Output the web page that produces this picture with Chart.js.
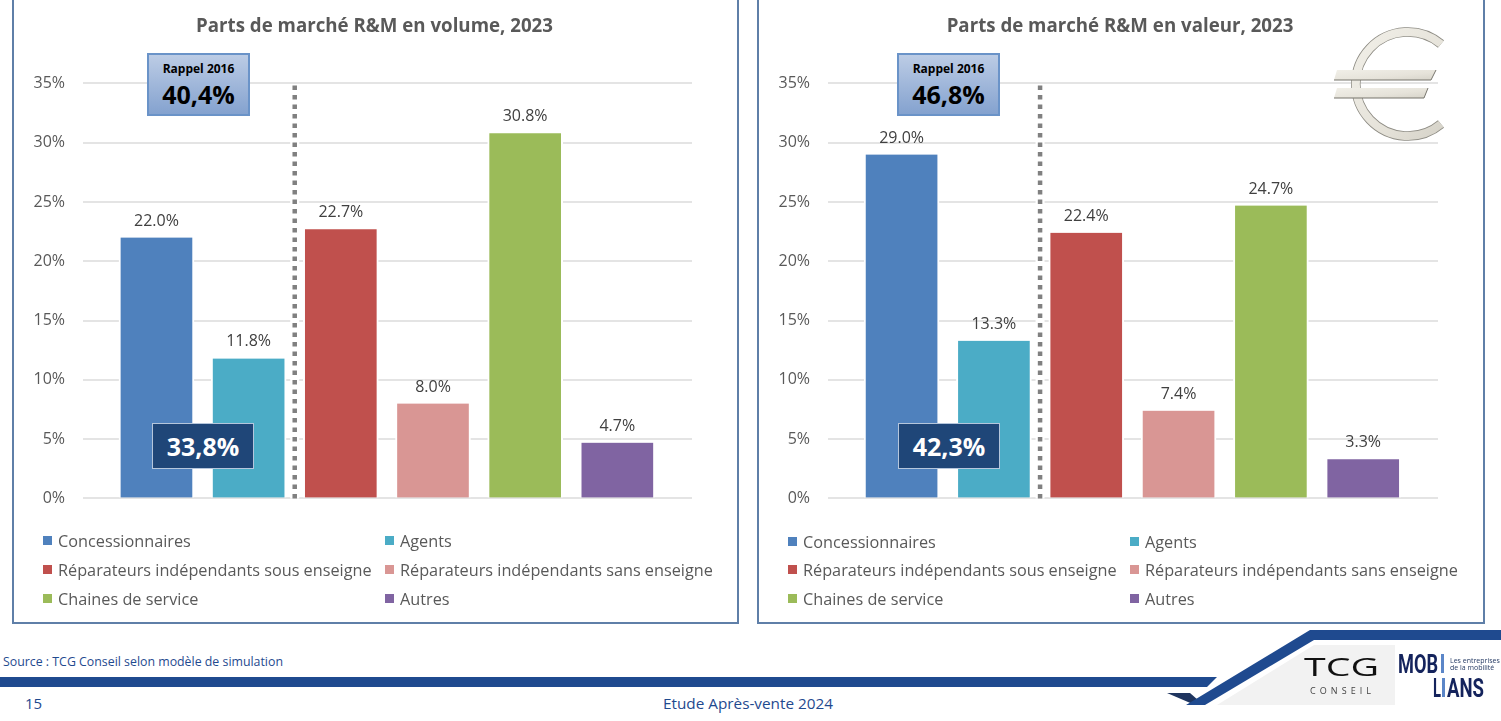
<!DOCTYPE html>
<html>
<head>
<meta charset="utf-8">
<script src="https://cdn.jsdelivr.net/npm/chart.js@4"></script>
<style>
html, body { margin: 0; padding: 0; background: #fff; }
body { width: 1501px; height: 721px; position: relative; overflow: hidden; font-family: "Open Sans", sans-serif; }
.panel { position: absolute; top: -4px; height: 625px; border: 2px solid #5f7fa8; box-sizing: content-box; }
canvas { position: absolute; }
.abs { position: absolute; white-space: nowrap; }
.rappel { position: absolute; top: 53px; width: 99px; height: 59px; border: 2px solid #6a93c8;
  background: linear-gradient(#bccce5, #84a2cf); text-align: center; color: #000; font-weight: bold; }
.rappel .small { font-size: 12px; line-height: 14px; margin-top: 7px; }
.rappel .big { font-size: 25px; line-height: 32px; margin-top: 2px; }
.share { position: absolute; top: 423px; width: 100px; height: 44px; border: 1px solid #b5c6dc; background: #1f4678;
  color: #fff; font-weight: bold; font-size: 25px; line-height: 44px; text-align: center; }
.swatch { position: absolute; width: 9px; height: 9px; }
.legend-text { position: absolute; white-space: nowrap; font-size: 16.25px; line-height: 22px; color: #595959; }
svg { position: absolute; left: 0; top: 0; }
</style>
</head>
<body>
<div class="panel" style="left:12px;width:723px;height:624px"></div>
<div class="panel" style="left:757px;width:724px;height:624px"></div>
<canvas id="chartVolume" width="721" height="526" style="left:14px;top:0"></canvas>
<canvas id="chartValeur" width="722" height="526" style="left:759px;top:0"></canvas>

<div class="abs" style="left:3px;top:653px;font-size:12.35px;color:#1f4a8f">Source : TCG Conseil selon modèle de simulation</div>
<div class="abs" style="left:25px;top:693px;font-size:15px;color:#1f4a8f">15</div>
<div class="abs" style="left:663px;top:693px;font-size:15.3px;color:#1f4a8f">Etude Après-vente 2024</div>

<svg width="1501" height="721">
  <defs>
    <linearGradient id="euroGrad" x1="0" y1="0" x2="1" y2="1">
      <stop offset="0" stop-color="#f1efe8"/><stop offset="0.6" stop-color="#e6e3da"/><stop offset="1" stop-color="#d6d3c9"/>
    </linearGradient>
  </defs>
  <!-- euro sign -->
  <path d="M1441 44 A52 52 0 1 0 1441 124" fill="none" stroke="#8f8d85" stroke-width="9.5"/>
  <path d="M1441 44 A52 52 0 1 0 1441 124" fill="none" stroke="url(#euroGrad)" stroke-width="8"/>
  <polygon points="1337,70 1436,70 1431,80 1334,80" fill="url(#euroGrad)"/>
  <polyline points="1334,80 1431,80 1436,70" fill="none" stroke="#77756d" stroke-width="1"/>
  <polygon points="1337,88 1428,88 1424,98 1334,98" fill="url(#euroGrad)"/>
  <polyline points="1334,98 1424,98 1428,88" fill="none" stroke="#77756d" stroke-width="1"/>
  <!-- footer -->
  <polygon points="1314,645 1395,645 1395,705 1217,705" fill="#f2f2f2"/>
  <polygon points="0,677 1217,677 1207,687 0,687" fill="#1f4a8f"/>
  <polygon points="1167,693 1190,693 1198,700 1195,705" fill="#1f355f"/>
  <polygon points="1310,630 1501,630 1501,640 1314,640 1205,705 1186,705" fill="#1f4a8f"/>
  <text x="1304" y="676" textLength="75" lengthAdjust="spacingAndGlyphs" font-family="Open Sans" font-size="25" fill="#111">TCG</text>
  <text x="1310" y="694" textLength="61" font-family="Open Sans" font-size="9" fill="#444">CONSEIL</text>
  <text x="1398" y="673" textLength="40" lengthAdjust="spacingAndGlyphs" font-family="Roboto" font-weight="bold" font-size="26" fill="#14235c">MOB</text>
  <rect x="1441" y="654" width="3" height="19" fill="#5b86c8"/>
  <text x="1450" y="663" font-family="Open Sans" font-size="7" fill="#1f355f">Les entreprises</text>
  <text x="1450" y="670" font-family="Open Sans" font-size="7" fill="#1f355f">de la mobilité</text>
  <text x="1433" y="697" textLength="8" lengthAdjust="spacingAndGlyphs" font-family="Roboto" font-weight="bold" font-size="26" fill="#14235c">L</text>
  <rect x="1442" y="678" width="3" height="19" fill="#5b86c8"/>
  <text x="1447" y="697" textLength="37" lengthAdjust="spacingAndGlyphs" font-family="Roboto" font-weight="bold" font-size="26" fill="#14235c">ANS</text>
</svg>

<script>
const categories = ['Concessionnaires', 'Agents', 'Réparateurs indépendants sous enseigne',
    'Réparateurs indépendants sans enseigne', 'Chaines de service', 'Autres'];
const volumeValues = [22.0, 11.8, 22.7, 8.0, 30.8, 4.7];
const valeurValues = [29.0, 13.3, 22.4, 7.4, 24.7, 3.3];
const barColors = ['#4f81bd', '#4bacc6', '#c0504d', '#d99694', '#9bbb59', '#8064a2'];
const yTicks = [0, 5, 10, 15, 20, 25, 30, 35];
const volumeTitle = 'Parts de marché R&M en volume, 2023';
const valeurTitle = 'Parts de marché R&M en valeur, 2023';
const volumeRappel = '40,4%';
const valeurRappel = '46,8%';
const volumeShare = '33,8%';
const valeurShare = '42,3%';
const rappelLabel = 'Rappel 2016';

const textColor = '#595959';

// Value labels above the bars and the dotted separator
const extrasPlugin = {
    id: 'extras',
    afterDatasetsDraw(chart) {
        const c = chart.ctx;
        const meta = chart.getDatasetMeta(0);
        c.save();
        c.fillStyle = '#404040';
        c.font = '16px "Open Sans"';
        c.textAlign = 'center';
        meta.data.forEach((bar, i) => {
            c.fillText(chart.data.datasets[0].data[i].y.toFixed(1) + '%', bar.x, bar.y - 12);
        });
        const x = chart.scales.x.getPixelForValue(1.5);
        const top = chart.scales.y.getPixelForValue(35) + 2;
        const bottom = chart.scales.y.getPixelForValue(0);
        c.beginPath();
        c.moveTo(x, top);
        c.lineTo(x, bottom);
        c.strokeStyle = '#fff';
        c.lineWidth = 9;
        c.stroke();
        c.setLineDash([4.5, 5]);
        c.strokeStyle = '#808080';
        c.lineWidth = 4.5;
        c.stroke();
        c.restore();
    }
};

function makeChart(id, title, values) {
    return new Chart(document.getElementById(id).getContext('2d'), {
        type: 'bar',
        data: {
            datasets: [{
                data: values.map((v, i) => ({ x: i, y: v })),
                backgroundColor: barColors,
                borderColor: '#fff',
                borderWidth: { left: 2, right: 2, top: 0, bottom: 0 },
                barThickness: 75,
            }],
        },
        options: {
            responsive: false,
            animation: false,
            layout: { padding: { top: 0, bottom: 8 } },
            plugins: {
                legend: { display: false },
                tooltip: { enabled: false },
                title: {
                    display: true,
                    text: title,
                    color: textColor,
                    font: { family: 'Open Sans', size: 18.7, weight: 'bold' },
                    padding: { top: 15, bottom: 46 },
                },
            },
            scales: {
                x: { type: 'linear', display: false, offset: false, min: -0.797, max: 5.81 },
                y: {
                    min: 0,
                    max: 35,
                    afterFit(scale) { scale.width = 69; },
                    afterBuildTicks(scale) { scale.ticks = yTicks.map(v => ({ value: v })); },
                    border: { display: false },
                    grid: { color: '#e4e4e4', lineWidth: 2, drawTicks: false },
                    ticks: {
                        color: textColor,
                        padding: 18,
                        font: { family: 'Open Sans', size: 16 },
                        callback: v => v + '%',
                    },
                },
                // empty axis: keeps the plot short of the frame while the title stays centred on it
                spacer: {
                    position: 'right',
                    afterFit(scale) { scale.width = 43; },
                    border: { display: false },
                    grid: { display: false },
                    ticks: { display: false },
                },
            },
        },
        plugins: [extrasPlugin],
    });
}

makeChart('chartVolume', volumeTitle, volumeValues);
makeChart('chartValeur', valeurTitle, valeurValues);

// Callouts and legends are plain text on top of the charts
function addBoxes(rappelLeft, rappelText, shareLeft, shareText) {
    const r = document.createElement('div');
    r.className = 'rappel';
    r.style.left = rappelLeft + 'px';
    r.innerHTML = '<div class="small">' + rappelLabel + '</div><div class="big">' + rappelText + '</div>';
    document.body.appendChild(r);
    const s = document.createElement('div');
    s.className = 'share';
    s.style.left = shareLeft + 'px';
    s.textContent = shareText;
    document.body.appendChild(s);
}

function addLegend(col1, col2, rows) {
    categories.forEach((name, i) => {
        const x = i % 2 === 0 ? col1 : col2;
        const y = rows[Math.floor(i / 2)];
        const sw = document.createElement('div');
        sw.className = 'swatch';
        sw.style.left = x + 'px';
        sw.style.top = (y - 5) + 'px';
        sw.style.background = barColors[i];
        document.body.appendChild(sw);
        const t = document.createElement('div');
        t.className = 'legend-text';
        t.style.left = (x + 15) + 'px';
        t.style.top = (y - 11) + 'px';
        t.textContent = name;
        document.body.appendChild(t);
    });
}

addBoxes(147, volumeRappel, 152, volumeShare);
addBoxes(897, valeurRappel, 898, valeurShare);
addLegend(43, 385, [541, 570, 599]);
addLegend(788, 1130, [542, 570, 599]);
</script>
</body>
</html>
